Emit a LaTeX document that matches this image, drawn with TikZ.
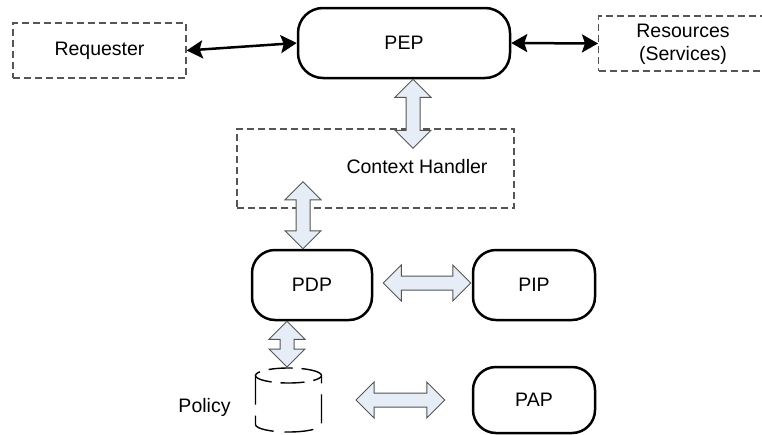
\documentclass[tikz,border=0pt]{standalone}
\usepackage{fontspec}
\setmainfont{Liberation Sans}
\usetikzlibrary{calc,arrows.meta}
\definecolor{blkfill}{HTML}{E6EDF7}
\definecolor{blkdraw}{HTML}{555555}
\definecolor{dashgray}{HTML}{555555}
\tikzset{
  every node/.style={font=\fontsize{19.5}{23}\selectfont},
  dbox/.style={draw=dashgray, line width=1.3pt, dash pattern=on 7pt off 4pt, inner sep=0pt},
  rbox/.style={draw=black, line width=2.5pt, rounded corners=23pt, inner sep=0pt, minimum width=120pt, minimum height=70pt},
  blk/.style={draw=blkdraw, fill=blkfill, line width=1pt, line join=miter},
  conn/.style={line width=2.5pt, {Stealth[length=16pt,width=18pt,inset=3pt]}-{Stealth[length=16pt,width=18pt,inset=3pt]}},
  cyl/.style={draw=black, line width=1.4pt}
}
\newcommand{\vblockarrow}[2]{%
  \draw[blk] (#1) -- ($(#1)+(18,18)$) -- ($(#1)+(7,18)$) -- ($(#2)+(7,-18)$) -- ($(#2)+(18,-18)$) -- (#2) -- ($(#2)+(-18,-18)$) -- ($(#2)+(-7,-18)$) -- ($(#1)+(-7,18)$) -- ($(#1)+(-18,18)$) -- cycle;}
\newcommand{\hblockarrow}[2]{%
  \draw[blk] (#1) -- ($(#1)+(18,-18)$) -- ($(#1)+(18,-7)$) -- ($(#2)+(-18,-7)$) -- ($(#2)+(-18,-18)$) -- (#2) -- ($(#2)+(-18,18)$) -- ($(#2)+(-18,7)$) -- ($(#1)+(18,7)$) -- ($(#1)+(18,18)$) -- cycle;}
\begin{document}
\begin{tikzpicture}[x=1pt,y=-1pt]
\useasboundingbox (0,0) rectangle (762,434);
\clip (0,0) rectangle (762,434);

% nodes
\node[dbox, minimum width=173pt, minimum height=55pt] (req) at (99.5,50.5) {Requester};
\node[rbox, minimum width=212pt, minimum height=70pt, rounded corners=25pt] (pep) at (404,43) {PEP};
\node[dbox, minimum width=172pt, minimum height=55pt, anchor=west] (res) at (598,43.5) {};
\node[align=center, inner sep=0pt] (restext) at (683,44) {Resources\\(Services)};
\node[dbox, minimum width=277pt, minimum height=79pt] (ch) at (375.5,168.5) {};
\node[inner sep=0pt] (chtext) at (417,167) {Context Handler};
\node[rbox] (pdp) at (312,285) {PDP};
\node[rbox, minimum width=122pt] (pip) at (534,285) {PIP};
\node[rbox, minimum width=122pt, minimum height=66pt] (pap) at (534,400) {PAP};
\node[inner sep=0pt] (policytext) at (204.5,407) {Policy};

% cylinder
\coordinate (cyltop) at (288.5,375.5);
\coordinate (cylbot) at (288.5,424.5);
\draw[cyl, dash pattern=on 24pt off 9pt, dash phase=14pt] (cyltop) ellipse [x radius=33, y radius=7.5];
\draw[cyl, dash pattern=on 29pt off 11pt] ($(cyltop)+(-33,0)$) -- ($(cylbot)+(-33,0)$)
      arc[start angle=180, end angle=0, x radius=33, y radius=7.5] -- ($(cyltop)+(33,0)$);

% black connectors
\draw[conn] (req.east) -- (pep.west);
\draw[conn] (pep.east) -- (res.west);

% block arrows
\coordinate (a1t) at ($(pep.south)+(9,0)$);
\coordinate (a1b) at ($(a1t)+(0,69)$);
\vblockarrow{a1t}{a1b}
\coordinate (a2b) at ($(pdp.north)+(-9,0)$);
\coordinate (a2t) at ($(a2b)+(0,-67)$);
\vblockarrow{a2t}{a2b}
\coordinate (a3l) at ($(pdp.east)+(10,-2)$);
\coordinate (a3r) at ($(pip.west)+(-1,-2)$);
\hblockarrow{a3l}{a3r}
\coordinate (a4t) at ($(pdp.south)+(-25,0)$);
\coordinate (a4b) at ($(cyltop)+(-1.5,-8.5)$);
\vblockarrow{a4t}{a4b}
\coordinate (a5l) at (356,400);
\coordinate (a5r) at ($(pap.west)+(-27,0)$);
\hblockarrow{a5l}{a5r}
\end{tikzpicture}
\end{document}
